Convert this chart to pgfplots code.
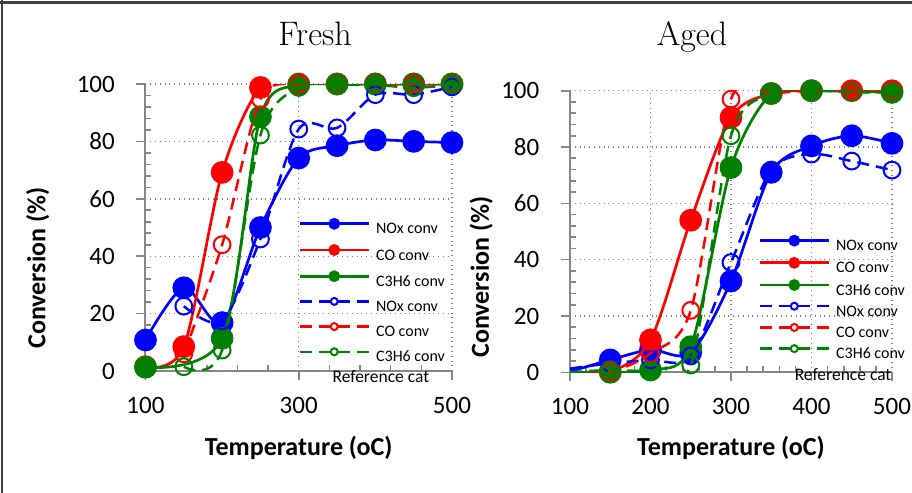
\documentclass[border=0pt]{standalone}
\usepackage{fontspec}
\usepackage{pgfplots}
\pgfplotsset{compat=1.18}
\newfontfamily\carlito{Carlito}

\definecolor{nox}{RGB}{0,0,255}
\definecolor{co}{RGB}{255,0,0}
\definecolor{hc}{RGB}{0,128,0}
\definecolor{axgray}{RGB}{134,134,134}

\pgfplotsset{
  conv/.style={
    scale only axis,
    xmin=100, xmax=500, ymin=0, ymax=100,
    axis x line=bottom, axis y line=left,
    axis line style={axgray, line width=1pt, -},
    ytick={0,20,...,100}, minor y tick num=4,
    grid=major,
    major grid style={dotted, gray, line width=0.7pt},
    tick style={axgray, line width=0.8pt},
    tick align=outside, major tick length=4.5pt, minor tick length=-3pt,
    tick label style={font=\carlito\fontsize{12.5}{14}\selectfont},
    xticklabel style={yshift=-4.9pt},
    yticklabel style={xshift=-7.3pt},
    /pgf/number format/assume math mode=true,
    label style={font=\carlito\bfseries\fontsize{13}{15}\selectfont},
    xlabel={Temperature (oC)},
    ylabel={Conversion (\%)},
    clip mode=individual,
    legend cell align=left,
    legend style={draw=none, fill=none, inner sep=0pt,
      font=\carlito\fontsize{8}{9}\selectfont,
      nodes={inner sep=0pt, text height=6pt, text depth=1.5pt},
      /tikz/column sep=3pt},
  },
  sol/.style={color=#1, solid, line width=1.35pt, smooth, mark=*, mark size=5pt,
    mark options={solid, fill=#1},
    legend image code/.code={\draw[##1, mark size=2.25pt, mark indices={2}]
      plot coordinates {(0pt,2.8pt) (17.25pt,2.8pt) (34.5pt,2.8pt)};}},
  das/.style={color=#1, line width=1.25pt, dash pattern=on 6pt off 3.5pt, smooth,
    mark=o, mark size=4.2pt, mark options={solid, fill=white, line width=1pt},
    legend image code/.code={\draw[##1, mark size=1.75pt, mark indices={2}]
      plot coordinates {(0pt,2.8pt) (17.25pt,2.8pt) (34.5pt,2.8pt)};}},
}

\begin{document}
\begin{tikzpicture}
\useasboundingbox (0,0) rectangle (456pt,-246.5pt);
\draw[black!75, line width=1.5pt] (0,-1.2pt) -- (456pt,-1.2pt);
\draw[black!75, line width=1pt] (0.8pt,0) -- (0.8pt,-246.5pt);

\node[anchor=base, font=\fontsize{17}{20}\selectfont] at (157.5pt,-22.5pt) {Fresh};
\node[anchor=base, font=\fontsize{17}{20}\selectfont] at (346pt,-22.5pt) {Aged};

% Fresh
\begin{axis}[conv, at={(72.75pt,-185.5pt)}, anchor=south west,
  width=153.25pt, height=143.5pt,
  xtick={100,300,500}, minor x tick num=4,
  xlabel style={at={(rel axis cs:0.5,-0.268)}, anchor=center},
  ylabel style={at={(rel axis cs:-0.352,0.359)}, anchor=center},
  legend style={at={(rel axis cs:0.4976,0.53)}, anchor=north west, /tikz/row sep=4.3pt}]
\addplot[sol=nox] coordinates {(100,10.8) (150,29) (200,16.8) (250,50) (300,74.2) (350,78.5) (400,80.5) (450,80) (500,79.6)};
\addlegendentry{NOx conv}
\addplot[sol=co] coordinates {(100,1.5) (150,8.5) (200,69.2) (250,98.8) (300,100) (350,100) (400,100) (450,100) (500,100)};
\addlegendentry{CO conv}
\addplot[sol=hc] coordinates {(100,1.3) (200,11.4) (250,88.6) (300,99.7) (350,100) (400,100) (450,100) (500,100)};
\addlegendentry{C3H6 conv}
\addplot[das=nox] coordinates {(150,22.6) (200,17.5) (250,46) (300,84.3) (350,84.7) (400,96.3) (450,96.3) (500,99)};
\addlegendentry{NOx conv}
\addplot[das=co] coordinates {(150,6) (200,44) (250,94.7) (300,100) (350,100) (400,100) (450,100) (500,100)};
\addlegendentry{CO conv}
\addplot[das=hc] coordinates {(150,1.5) (200,7.3) (250,82.2) (300,98.8) (350,99.7) (400,99.7) (450,98.7) (500,99.7)};
\addlegendentry{C3H6 conv}
\node[font=\carlito\fontsize{8.75}{10}\selectfont] at (rel axis cs:0.768,-0.019) {Reference cat};
\end{axis}

% Aged
\begin{axis}[conv, at={(285pt,-186.15pt)}, anchor=south west,
  width=161pt, height=140.8pt,
  xtick={100,200,...,500}, minor x tick num=4,
  xlabel style={at={(rel axis cs:0.5,-0.269)}, anchor=center},
  ylabel style={at={(rel axis cs:-0.276,0.338)}, anchor=center},
  legend style={at={(rel axis cs:0.584,0.485)}, anchor=north west, /tikz/row sep=2.3pt}]
\addplot[sol=nox, mark indices={2,...,10}] coordinates {(100,0.3) (150,4.4) (200,8) (250,7) (300,32.4) (350,71) (400,80.4) (450,84) (500,81.3)};
\addlegendentry{NOx conv}
\addplot[sol=co, mark indices={2,...,10}] coordinates {(100,0) (150,0.2) (200,11.5) (250,54) (300,90.5) (350,99) (400,100) (450,100) (500,100)};
\addlegendentry{CO conv}
\addplot[sol=hc, mark indices={2,...,10}] coordinates {(100,0) (150,0) (200,0.8) (250,9.1) (300,72.7) (350,99) (400,100) (500,99.4)};
\addlegendentry{C3H6 conv}
\addplot[das=nox, mark indices={2,...,10}] coordinates {(100,1.3) (150,3.2) (200,4.4) (250,5.8) (300,39) (350,71.8) (400,77.5) (450,75) (500,71.8)};
\addlegendentry{NOx conv}
\addplot[das=co, mark indices={2,...,10}] coordinates {(100,0) (150,0.2) (200,6.7) (250,22) (300,97) (350,99) (400,100) (450,100) (500,100)};
\addlegendentry{CO conv}
\addplot[das=hc, mark indices={2,...,10}] coordinates {(100,0) (150,0.8) (200,0.5) (250,2.6) (300,84) (350,99) (400,100) (450,99.5) (500,99.4)};
\addlegendentry{C3H6 conv}
\node[font=\carlito\fontsize{8.75}{10}\selectfont] at (rel axis cs:0.848,-0.008) {Reference cat};
\end{axis}
\end{tikzpicture}
\end{document}
